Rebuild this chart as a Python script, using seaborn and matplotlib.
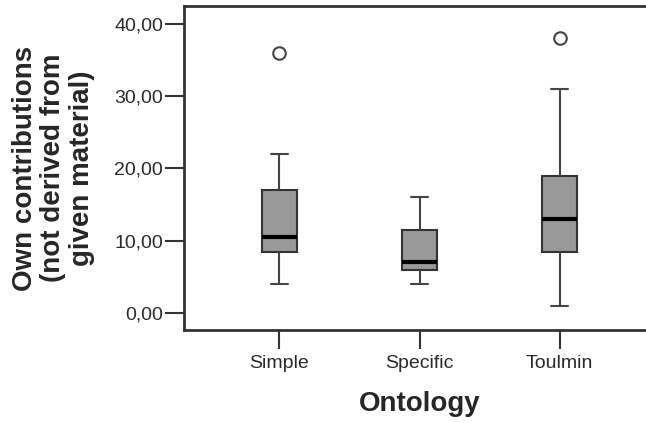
import pandas as pd
import numpy as np
import matplotlib
matplotlib.use("Agg")
import matplotlib.pyplot as plt
import seaborn as sns
from matplotlib.ticker import FuncFormatter

# values (9 per group: q1 at idx 2, median at idx 4, q3 at idx 6)
simple_vals = [4, 8.5, 8.5, 10.5, 10.5, 10.5, 17, 22, 36]
specific_vals = [4, 6, 6, 7, 7, 11.5, 11.5, 16, 16]
toulmin_vals = [1, 8.5, 8.5, 13, 13, 19, 19, 31, 38]
categories = ["Simple", "Specific", "Toulmin"]
y_ticks = [0, 10, 20, 30, 40]

df = pd.DataFrame({
    "Ontology": np.repeat(categories, [len(simple_vals), len(specific_vals), len(toulmin_vals)]),
    "Own": simple_vals + specific_vals + toulmin_vals,
})

sns.set_style("ticks")
plt.rcParams["font.family"] = ["Liberation Sans", "DejaVu Sans"]

W, H = 646, 423
fig = plt.figure(figsize=(W / 100, H / 100), dpi=100)
ax = fig.add_axes([184 / W, (H - 330) / H, (655 - 184) / W, (330 - 6) / H])

sns.boxplot(data=df, x="Ontology", y="Own", order=categories, ax=ax,
            width=0.25, color="#999999", linecolor="#333333", linewidth=1.5,
            whis=1.5, saturation=1,
            flierprops=dict(marker="o", markersize=9, markerfacecolor="white",
                            markeredgecolor="#444444", markeredgewidth=1.5),
            medianprops=dict(color="black", linewidth=3),
            whiskerprops=dict(color="#444444", linewidth=1.5),
            capprops=dict(color="#444444", linewidth=1.5))

ax.set_xlim(-0.68, 2.68)
ax.set_ylim(-2.35, 42.45)
ax.set_yticks(y_ticks)
ax.yaxis.set_major_formatter(FuncFormatter(lambda v, p: f"{v:.2f}".replace(".", ",")))

for s in ["left", "bottom", "top"]:
    ax.spines[s].set_color("#333333")
    ax.spines[s].set_linewidth(2)
ax.spines["right"].set_visible(False)

ax.tick_params(axis="both", length=14, width=1.5, color="#333333", labelsize=14, labelcolor="#2a2a2a")
ax.tick_params(axis="y", pad=1)
ax.tick_params(axis="x", pad=4)

ax.set_xlabel("Ontology", fontsize=20, fontweight="bold", labelpad=14)
ax.set_ylabel("Own contributions\n(not derived from\ngiven material)", fontsize=20,
              fontweight="bold", linespacing=1.12, labelpad=14)
ax.grid(False)

fig.savefig("out.png", dpi=100)
